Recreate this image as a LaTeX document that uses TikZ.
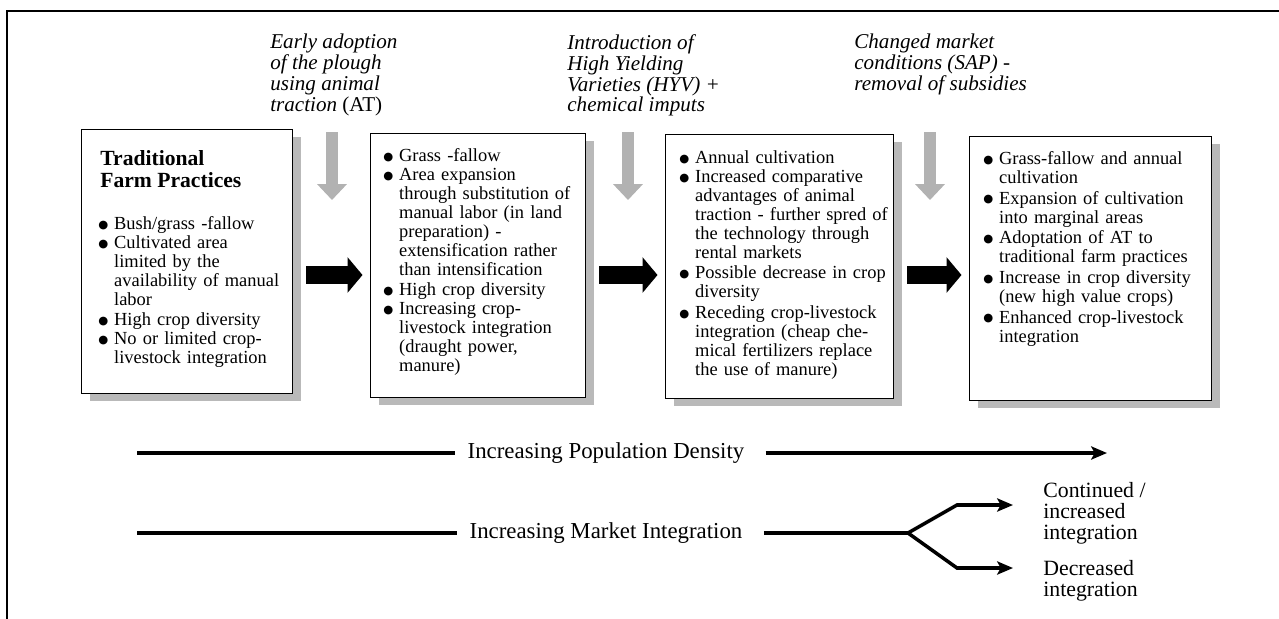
\documentclass[tikz,border=0pt]{standalone}
\usepackage{fontspec}
\setmainfont{Liberation Serif}
\newfontfamily\dotfont{DejaVu Sans}
\usetikzlibrary{arrows.meta,shadows}

\newcommand{\farmitem}[1]{\par\noindent
  \makebox[9pt][l]{\raisebox{0.15ex}{\dotfont\fontsize{6.5}{6.5}\selectfont ●}}%
  \parbox[t]{4.5cm}{\strut#1\strut}}

\tikzset{
  stage/.style={draw, line width=0.8pt, fill=white, anchor=north west,
    inner sep=0pt, minimum height=5.28cm,
    drop shadow={shadow xshift=4.5pt, shadow yshift=-4pt, fill=gray!55, opacity=1}},
  stagetext/.style={anchor=north west, inner sep=0pt, text width=5cm,
    align=left, font=\fontsize{10.5}{10.8}\selectfont},
  stagetitle/.style={anchor=north west, inner sep=0pt, align=left,
    font=\fontsize{12.3}{12.5}\selectfont\bfseries},
  event/.style={anchor=north west, inner sep=0pt, align=left,
    font=\fontsize{12}{11.9}\selectfont\itshape},
  blockarrow/.style={line width=10.2pt, -{Triangle[length=8.5pt,width=19.8pt]},
    shorten <=0.26cm, shorten >=0.15cm},
  hatcharrow/.style={line width=6.6pt, draw=gray!60,
    -{Triangle[length=9pt,width=16.4pt]}},
  trend/.style={inner sep=7pt, font=\fontsize{13}{14}\selectfont},
  trendline/.style={line width=2pt},
  outcome/.style={anchor=west, inner sep=0pt, align=left,
    font=\fontsize{12.4}{12}\selectfont}
}

\begin{document}
\begin{tikzpicture}[x=0.02cm, y=-0.02cm]
    \useasboundingbox (0,0) rectangle (1279,619) ;
    \draw[line width=1.3pt] (7,619) -- (7,11) -- (1279,11) ;

    \node[event] (plough) at (270,34) {Early adoption\\of the plough\\using
      animal\\traction {\upshape(AT)}} ;
    \node[event] (hyv) at (567,34) {Introduction of\\High Yielding\\Varieties
      (HYV) +\\chemical imputs} ;
    \node[event] (sap) at (854,34) {Changed market\\conditions (SAP) -\\removal
      of subsidies} ;

    \node[stage, minimum width=4.22cm] (box1) at (81,129) {} ;
    \node[stage, minimum width=4.30cm] (box2) at (370,133) {} ;
    \node[stage, minimum width=4.56cm] (box3) at (665,134) {} ;
    \node[stage, minimum width=4.84cm] (box4) at (969,136) {} ;

    \node[stagetitle] (tradtitle) at (100,150) {Traditional\\Farm Practices} ;
    \node[stagetext] (tradlist) at (98,210) {
      \farmitem{Bush/grass -fallow}
      \farmitem{Cultivated area\\limited by the\\availability of manual\\labor}
      \farmitem{High crop diversity}
      \farmitem{No or limited crop-\\livestock integration}} ;

    \node[stagetext] (ploughlist) at (383,142) {
      \farmitem{Grass -fallow}
      \farmitem{Area expansion\\through substitution of\\manual labor (in
        land\\preparation) -\\extensification rather\\than intensification}
      \farmitem{High crop diversity}
      \farmitem{Increasing crop-\\livestock integration\\(draught
        power,\\manure)}} ;

    \node[stagetext] (hyvlist) at (679,144) {
      \farmitem{Annual cultivation}
      \farmitem{Increased comparative\\advantages of animal\\traction - further
        spred of\\the technology through\\rental markets}
      \farmitem{Possible decrease in crop\\diversity}
      \farmitem{Receding crop-livestock\\integration (cheap che-\\mical
        fertilizers replace\\the use of manure)}} ;

    \node[stagetext] (saplist) at (983,145) {
      \farmitem{Grass-fallow and annual\\cultivation}
      \farmitem{Expansion of cultivation\\into marginal areas}
      \farmitem{Adoptation of AT to\\traditional farm practices}
      \farmitem{Increase in crop diversity\\(new high value crops)}
      \farmitem{Enhanced crop-livestock\\integration}} ;

    \foreach \name/\gx in {plough/332, hyv/628, sap/930} {
      \coordinate (\name top) at (\gx,132) ;
      \coordinate (\name tip) at (\gx,200) ;
      \draw[hatcharrow] (\name top) -- (\name tip) ;
    } ;

    \coordinate (flow) at (0,275) ;
    \foreach \a/\b in {box1/box2, box2/box3, box3/box4} {
      \draw[blockarrow] (\a.east |- flow) -- (\b.west |- flow) ;
    } ;

    \node[trend] (pop) at (606,453) {Increasing Population Density} ;
    \coordinate (popstart) at (137,453) ;
    \coordinate (popend) at (1107,453) ;
    \draw[trendline] (popstart) -- (pop.west) ;
    \draw[trendline, -{Stealth[length=9pt,width=7.5pt,inset=2pt]},
      shorten <=5pt] (pop.east) -- (popend) ;

    \node[trend] (mkt) at (606,533) {Increasing Market Integration} ;
    \coordinate (mktstart) at (137,533) ;
    \coordinate (fork) at (908,533) ;
    \draw[trendline] (mktstart) -- (mkt.west) ;
    \draw[trendline, shorten <=5pt] (mkt.east) -- (fork) ;

    \node[outcome] (contd) at (1043,513) {Continued /\\increased\\integration} ;
    \node[outcome] (decr) at (1043,581) {Decreased\\integration} ;
    \coordinate (upbend) at (957,505) ;
    \coordinate (uptip) at (1013,505) ;
    \coordinate (downbend) at (957,568) ;
    \coordinate (downtip) at (1013,568) ;
    \draw[trendline, -{Stealth[length=9pt,width=7.5pt,inset=2pt]}]
      (fork) -- (upbend) -- (uptip) ;
    \draw[trendline, -{Stealth[length=9pt,width=7.5pt,inset=2pt]}]
      (fork) -- (downbend) -- (downtip) ;
  \end{tikzpicture}
\end{document}
